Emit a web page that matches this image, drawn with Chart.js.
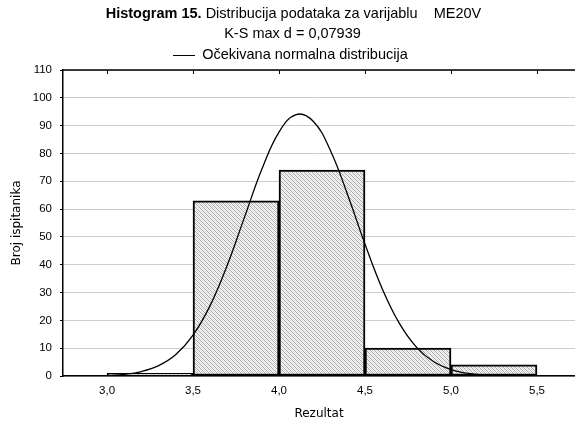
<!DOCTYPE html>
<html>
<head>
<meta charset="utf-8">
<script src="https://cdn.jsdelivr.net/npm/chart.js@4.4.1/dist/chart.umd.min.js"></script>
<style>
    html, body { margin: 0; padding: 0; background: #ffffff; }
    #wrap { position: relative; width: 575px; height: 427px; }
    .hdr {
        position: absolute; left: 0; width: 575px; text-align: center;
        font-family: "Liberation Sans", Arial, sans-serif; font-size: 14.5px; color: #000;
        white-space: pre; line-height: 17px;
    }
    #line1 { top: 5px; transform: translateX(6px); }
    #line2 { top: 25px; transform: translateX(5px); }
    #legend { top: 46px; transform: translateX(3px); }
    .swatch { display: inline-block; width: 22px; border-top: 1px solid #000; vertical-align: middle; margin-right: 7px; }
</style>
</head>
<body>
<div id="wrap">
    <canvas id="histChart" width="575" height="427"></canvas>
    <div class="hdr" id="line1"><b>Histogram 15.</b> Distribucija podataka za varijablu    ME20V</div>
    <div class="hdr" id="line2">K-S max d = 0,07939</div>
    <div class="hdr" id="legend"><span class="swatch"></span>Očekivana normalna distribucija</div>
</div>
<script>
// Histogram bins (centres) and counts
const binCenters = [3.25, 3.75, 4.25, 4.75, 5.25];
const binCounts = [1, 63, 74, 10, 4];

// Expected normal curve
const curveX = [3.0, 3.1, 3.2, 3.3, 3.4, 3.5, 3.6, 3.7, 3.8, 3.9, 4.0, 4.1, 4.2, 4.3, 4.4, 4.5, 4.6, 4.7, 4.8, 4.9, 5.0, 5.1, 5.2, 5.3, 5.4, 5.5];
const curveY = [0.2, 0.6, 1.6, 3.7, 7.7, 14.7, 25.4, 40.0, 57.2, 74.3, 87.7, 94.0, 91.5, 80.9, 65.0, 47.4, 31.4, 18.9, 10.3, 5.1, 2.3, 0.9, 0.35, 0.12, 0.04, 0.01];

// Axis ticks
const xTicks = [3.0, 3.5, 4.0, 4.5, 5.0, 5.5];
const yMax = 110;

function makeHatch() {
    const c = document.createElement('canvas');
    c.width = 4;
    c.height = 4;
    const g = c.getContext('2d');
    for (let y = 0; y < 4; y++) {
        for (let x = 0; x < 4; x++) {
            g.fillStyle = (x + y) % 2 ? '#f6f6f6' : '#dedede';
            if (x === y) g.fillStyle = '#a9a9a9';
            g.fillRect(x, y, 1, 1);
        }
    }
    return document.getElementById('histChart').getContext('2d').createPattern(c, 'repeat');
}

// top frame line with inward tick marks
const topFrame = {
    id: 'topFrame',
    afterDatasetsDraw(chart) {
        const { ctx, chartArea } = chart;
        const xs = chart.scales.x;
        ctx.save();
        ctx.strokeStyle = '#000';
        ctx.lineWidth = 1.5;
        ctx.beginPath();
        ctx.moveTo(chartArea.left, chartArea.top);
        ctx.lineTo(chartArea.right, chartArea.top);
        ctx.stroke();
        ctx.lineWidth = 1;
        xTicks.forEach(v => {
            const px = Math.round(xs.getPixelForValue(v)) + 0.5;
            ctx.beginPath();
            ctx.moveTo(px, chartArea.top);
            ctx.lineTo(px, chartArea.top + 4);
            ctx.stroke();
        });
        ctx.restore();
    }
};

const ctx = document.getElementById('histChart');

new Chart(ctx, {
    data: {
        datasets: [
            {
                type: 'line',
                label: 'Očekivana normalna distribucija',
                data: curveX.map((x, i) => ({ x: x, y: curveY[i] })),
                borderColor: '#000',
                borderWidth: 1.3,
                pointRadius: 0,
                fill: false,
                tension: 0.4,
                order: 0
            },
            {
                type: 'bar',
                label: 'Broj ispitanika',
                data: binCenters.map((x, i) => ({ x: x, y: binCounts[i] })),
                backgroundColor: makeHatch(),
                borderColor: '#000',
                borderWidth: 2,
                borderSkipped: false,
                barPercentage: 1.0,
                categoryPercentage: 1.0,
                order: 1
            }
        ]
    },
    options: {
        responsive: false,
        animation: false,
        events: [],
        layout: {
            padding: { top: 70, left: 0, right: 0, bottom: 0 }
        },
        plugins: {
            legend: { display: false },
            title: { display: false },
            tooltip: { enabled: false }
        },
        scales: {
            x: {
                type: 'linear',
                offset: false,
                min: 2.744,
                max: 5.721,
                afterBuildTicks: function(scale) {
                    scale.ticks = xTicks.map(v => ({ value: v }));
                },
                afterFit: function(scale) {
                    scale.height = 51;
                },
                grid: {
                    display: false,
                    drawTicks: false
                },
                border: {
                    display: true,
                    color: '#000',
                    width: 1.5
                },
                ticks: {
                    padding: 8,
                    color: '#000',
                    font: { family: '"Liberation Sans", Arial, sans-serif', size: 11.5 },
                    maxRotation: 0,
                    callback: function(value) {
                        return value.toFixed(1).replace('.', ',');
                    }
                },
                title: {
                    display: true,
                    text: 'Rezultat',
                    color: '#000',
                    font: { family: '"DejaVu Sans", sans-serif', size: 12 },
                    padding: { top: 0, bottom: 6 }
                }
            },
            y: {
                min: 0,
                max: yMax,
                afterFit: function(scale) {
                    scale.width = 63;
                },
                grid: {
                    color: '#cccccc',
                    lineWidth: 1,
                    borderDash: [1, 1],
                    drawTicks: true,
                    tickLength: 3,
                    tickColor: '#000',
                    tickBorderDash: []
                },
                border: {
                    display: true,
                    color: '#000',
                    width: 1.5
                },
                ticks: {
                    stepSize: 10,
                    padding: 8,
                    color: '#000',
                    font: { family: '"Liberation Sans", Arial, sans-serif', size: 11.5 }
                },
                title: {
                    display: true,
                    text: 'Broj ispitanika',
                    color: '#000',
                    font: { family: '"DejaVu Sans", sans-serif', size: 12 },
                    padding: { top: 10, bottom: 0 }
                }
            }
        }
    },
    plugins: [topFrame]
});
</script>
</body>
</html>
